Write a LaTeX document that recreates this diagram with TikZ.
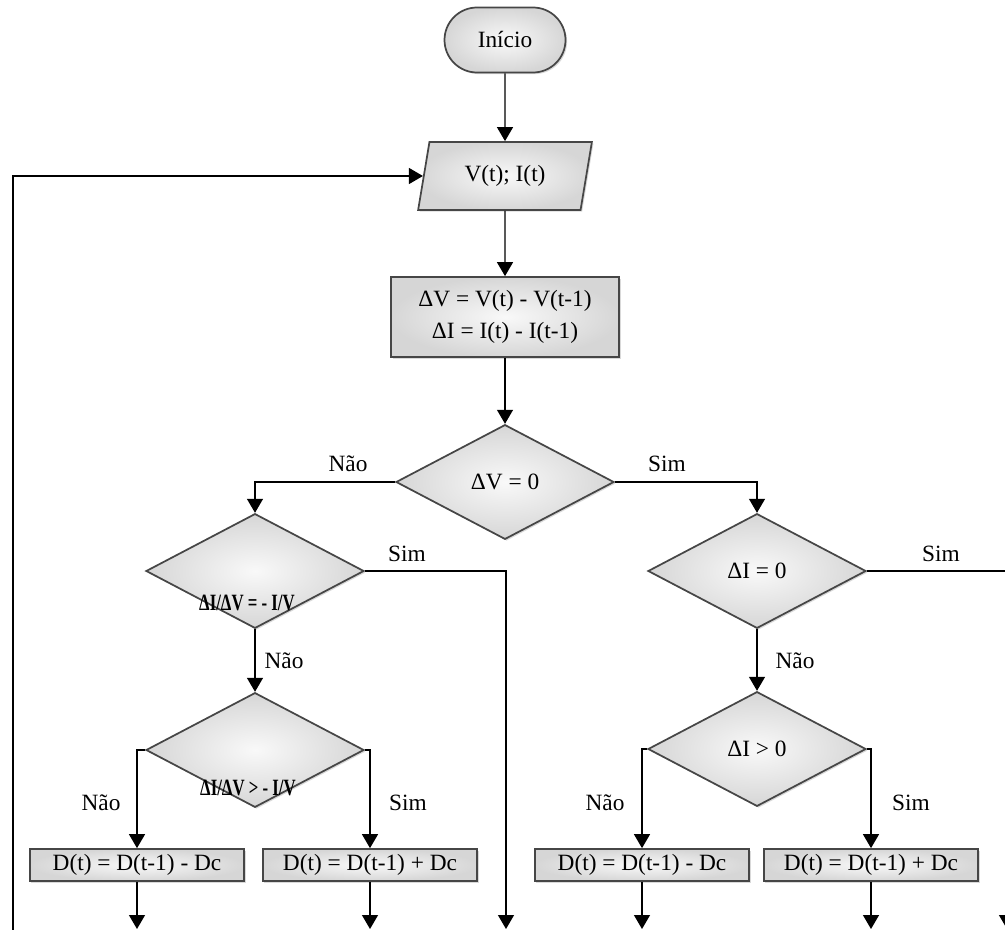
\documentclass[tikz,border=0pt]{standalone}
\usepackage{fontspec}
\setmainfont{Liberation Serif}
\usetikzlibrary{shapes.geometric,shapes.misc,arrows.meta,shadows}
\begin{document}
\begin{tikzpicture}[x=0.75pt,y=-0.75pt,
  every node/.style={font=\fontsize{17.5}{24}\selectfont},
  shp/.style={draw=gray!55!black, line width=1.3pt, shading=radial, inner color=gray!5, outer color=gray!32,
    drop shadow={shadow xshift=1.2pt,shadow yshift=-1.2pt,opacity=0.3}},
  proc/.style={shp, rectangle, inner sep=0pt},
  dec/.style={shp, diamond, inner sep=0pt, minimum width=163.5pt, minimum height=86pt},
  line/.style={line width=1pt, black},
  arr/.style={line, -{Triangle[width=12pt,length=10.5pt]}},
  lab/.style={inner sep=0pt},
  cond/.style={inner sep=0pt, font=\fontsize{17.5}{20}\selectfont\bfseries},
]
\useasboundingbox (0,0) rectangle (1005,930);

% shapes
\node[shp, rounded rectangle, minimum width=90.75pt, minimum height=48.75pt, inner sep=0pt] (start) at (505,40) {Início};
\node[shp, trapezium, trapezium left angle=74, trapezium right angle=106, trapezium stretches,
      minimum width=130.5pt, minimum height=51pt, inner sep=0pt] (io) at (505,176) {V(t); I(t)};
\node[proc, minimum width=171pt, minimum height=60pt, align=center] (diff) at (505,317)
  {ΔV = V(t) - V(t-1)\\ΔI = I(t) - I(t-1)};
\node[dec] (d0) at (505,482) {ΔV = 0};
\node[dec] (dl1) at (255,571) {};
\node[cond] (tl1) at (247,603) {\scalebox{0.72}[1]{ΔI/ΔV = - I/V}};
\node[dec] (dl2) at (255,750) {};
\node[cond] (tl2) at (248,788) {\scalebox{0.72}[1]{ΔI/ΔV > - I/V}};
\node[dec] (dr1) at (757,571) {ΔI = 0};
\node[dec] (dr2) at (757,749) {ΔI > 0};

\node[proc, minimum width=161pt, minimum height=24pt] (bl1) at (137,865) {D(t) = D(t-1) - Dc};
\node[proc, minimum width=161pt, minimum height=24pt] (bl2) at (370,865) {D(t) = D(t-1) + Dc};
\node[proc, minimum width=161pt, minimum height=24pt] (br1) at (642,865) {D(t) = D(t-1) - Dc};
\node[proc, minimum width=161pt, minimum height=24pt] (br2) at (871,865) {D(t) = D(t-1) + Dc};

% free ends
\coordinate (fb) at (13,940);
\coordinate (el1) at (137,929);
\coordinate (el2) at (370,929);
\coordinate (es) at (506,929);
\coordinate (er1) at (642,929);
\coordinate (er2) at (871,929);
\coordinate (eR) at (1007,929);

% connectors
\draw[arr] (start) -- (io);
\draw[arr] (io) -- (diff);
\draw[arr] (diff) -- (d0);
\draw[arr] (d0.west) -| (dl1.north);
\draw[arr] (d0.east) -| (dr1.north);
\draw[arr] (dl1.east) -| (es);
\draw[arr] (dl1.south) -- (dl2.north);
\draw[arr] (dl2.west) -| (bl1.north);
\draw[arr] (dl2.east) -| (bl2.north);
\draw[arr] (dr1.east) -| (eR);
\draw[arr] (dr1.south) -- (dr2.north);
\draw[arr] (dr2.west) -| (br1.north);
\draw[arr] (dr2.east) -| (br2.north);
\draw[arr] (bl1.south) -- (el1);
\draw[arr] (bl2.south) -- (el2);
\draw[arr] (br1.south) -- (er1);
\draw[arr] (br2.south) -- (er2);
\draw[arr] (fb) |- (io.west);

% labels
\node[lab] (l1) at (348,464) {Não};
\node[lab] (l2) at (667,464) {Sim};
\node[lab] (l3) at (407,554) {Sim};
\node[lab] (l4) at (284,661) {Não};
\node[lab] (l5) at (101,803) {Não};
\node[lab] (l6) at (408,803) {Sim};
\node[lab] (l7) at (941,554) {Sim};
\node[lab] (l8) at (795,661) {Não};
\node[lab] (l9) at (605,803) {Não};
\node[lab] (l10) at (911,803) {Sim};
\end{tikzpicture}
\end{document}
